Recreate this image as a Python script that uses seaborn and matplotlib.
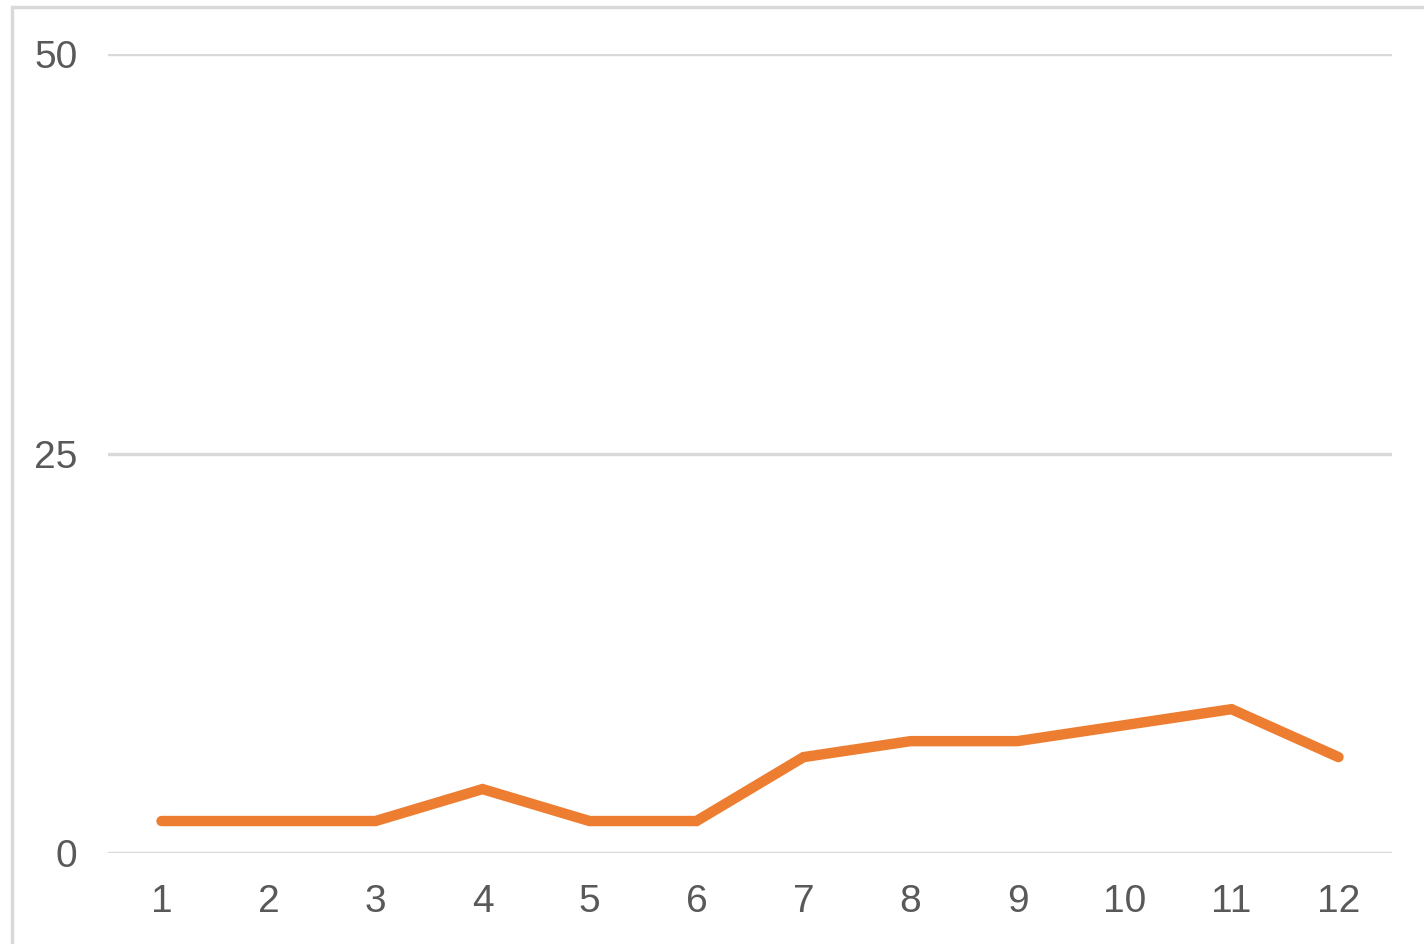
import matplotlib
matplotlib.use("Agg")
import matplotlib.pyplot as plt
import seaborn as sns
import pandas as pd
from matplotlib.patches import Rectangle

# values
months = [1, 2, 3, 4, 5, 6, 7, 8, 9, 10, 11, 12]
values = [2, 2, 2, 4, 2, 2, 6, 7, 7, 8, 9, 6]
yticks = [0, 25, 50]

df = pd.DataFrame({"month": months, "value": values})

sns.set_style("white")
plt.rcParams["font.family"] = ["Liberation Sans", "DejaVu Sans"]

fig = plt.figure(figsize=(14.24, 9.44), dpi=100)
ax = fig.add_axes([108 / 1424, 1 - 853 / 944, (1392 - 108) / 1424, (853 - 54) / 944])

sns.lineplot(data=df, x="month", y="value", ax=ax, color="#ED7D31",
             linewidth=7.5, solid_capstyle="round", solid_joinstyle="miter")

ax.set_xlim(0.5, 12.5)
ax.set_ylim(0, 50)
ax.set_xticks(months)
ax.set_xticklabels([str(m) for m in months])
ax.set_yticks(yticks)
ax.set_xlabel("")
ax.set_ylabel("")

# horizontal gridlines only
ax.grid(axis="y", color="#d9d9d9", linewidth=2.4)
ax.set_axisbelow(True)
for s in ax.spines.values():
    s.set_visible(False)
ax.tick_params(axis="both", length=0, labelsize=28, labelcolor="#595959")
ax.tick_params(axis="y", pad=22)
ax.tick_params(axis="x", pad=22)

# light frame around the chart area
fig.patches.append(Rectangle((11.5 / 1424, -0.1), 1.2, 1 - 6.5 / 944 + 0.1,
                             transform=fig.transFigure, fill=False,
                             edgecolor="#d9d9d9", linewidth=2.5, zorder=0))

fig.savefig("out.png", dpi=100, facecolor="white")
